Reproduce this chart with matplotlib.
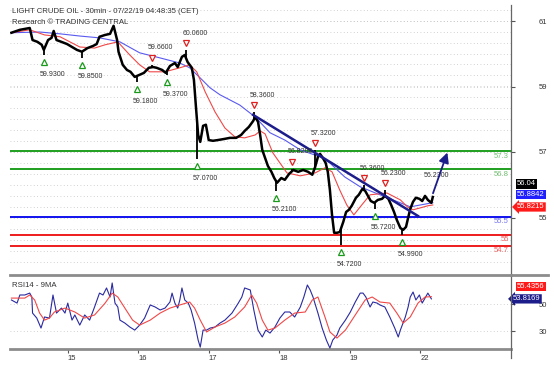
import numpy as np
import matplotlib
matplotlib.use("Agg")
import matplotlib.pyplot as plt
import matplotlib.transforms as mtransforms
from matplotlib.lines import Line2D

plt.rcParams["font.family"] = ["Liberation Sans", "DejaVu Sans"]

# time axis: trading days, 0 = Jul 15 (weekend skipped)
day_ticks = [0, 1, 2, 3, 4, 5]
day_labels = ["15", "16", "17", "18", "19", "22"]

# price (close)
price_t = [-0.80, -0.68, -0.54, -0.50, -0.43, -0.37, -0.34, -0.28, -0.23, -0.20, -0.16, -0.09,
           -0.01, 0.06, 0.13, 0.20, 0.28, 0.36, 0.41, 0.45, 0.53, 0.60, 0.65, 0.70, 0.72, 0.78,
           0.84, 0.89, 0.95, 1.01, 1.08, 1.15, 1.21, 1.26, 1.34, 1.39, 1.45, 1.52, 1.56, 1.62,
           1.66, 1.70, 1.76, 1.79, 1.82, 1.85, 1.88, 1.92, 1.96, 2.00, 2.06, 2.13, 2.22, 2.30,
           2.39, 2.46, 2.51, 2.57, 2.63, 2.66, 2.70, 2.73, 2.76, 2.80, 2.84, 2.89, 2.93, 2.97,
           3.03, 3.08, 3.14, 3.20, 3.27, 3.34, 3.41, 3.47, 3.51, 3.55, 3.58, 3.62, 3.66, 3.69,
           3.72, 3.75, 3.78, 3.82, 3.86, 3.91, 3.95, 3.99, 4.03, 4.09, 4.13, 4.18, 4.22, 4.26,
           4.30, 4.35, 4.40, 4.46, 4.50, 4.55, 4.59, 4.63, 4.67, 4.72, 4.76, 4.80, 4.83, 4.86,
           4.90, 4.94, 4.99, 5.03, 5.07, 5.11, 5.16, 5.18]
price_close = [60.54, 60.62, 60.67, 60.34, 60.29, 60.21, 60.07, 60.34, 60.40, 60.59, 60.34, 60.29,
               60.23, 60.15, 60.07, 60.02, 60.12, 60.18, 60.23, 60.43, 60.48, 60.51, 60.73, 60.34,
               60.02, 59.66, 59.52, 59.47, 59.33, 59.38, 59.44, 59.58, 59.60, 59.58, 59.52, 59.44,
               59.63, 59.71, 59.60, 59.88, 59.93, 59.74, 59.58, 59.25, 58.48, 57.74, 57.55, 57.99,
               58.02, 57.60, 57.58, 57.60, 57.63, 57.66, 57.66, 57.74, 57.85, 57.96, 58.12, 58.23,
               58.10, 57.74, 57.33, 57.11, 56.89, 56.73, 56.56, 56.43, 56.56, 56.51, 56.67, 56.78,
               56.73, 56.78, 56.73, 56.65, 56.86, 57.14, 57.22, 57.11, 56.97, 56.73, 56.23, 55.55,
               55.06, 55.06, 55.08, 55.36, 55.63, 55.69, 55.80, 56.02, 56.10, 56.26, 56.21, 56.07,
               55.93, 55.88, 55.96, 55.99, 56.07, 55.99, 55.82, 55.63, 55.41, 55.19, 55.14, 55.22,
               55.47, 55.71, 55.91, 56.02, 55.99, 55.93, 56.07, 55.96, 55.88, 56.04]

# moving averages on price
ma_fast_t = [-0.80, -0.54, -0.33, -0.11, 0.17, 0.38, 0.53, 0.71, 0.88, 1.02, 1.16, 1.38, 1.59,
             1.73, 1.83, 1.95, 2.09, 2.23, 2.37, 2.51, 2.66, 2.73, 2.80, 2.91, 3.11, 3.30, 3.51,
             3.65, 3.75, 3.86, 3.96, 4.06, 4.15, 4.29, 4.53, 4.72, 4.82, 4.90, 5.00, 5.11, 5.18]
ma_fast = [60.54, 60.62, 60.48, 60.43, 60.15, 60.12, 60.21, 60.29, 59.93, 59.66, 59.47, 59.47,
           59.58, 59.66, 59.47, 58.92, 58.37, 57.93, 57.69, 57.66, 57.74, 57.85, 57.77, 57.25,
           56.70, 56.62, 56.70, 56.84, 56.73, 56.23, 55.82, 55.55, 55.77, 56.10, 56.15, 55.96,
           55.77, 55.69, 55.74, 55.80, 55.8215]
ma_slow_t = [-0.80, -0.40, -0.11, 0.17, 0.45, 0.74, 1.02, 1.31, 1.59, 1.73, 1.88, 2.02, 2.16,
             2.44, 2.66, 2.87, 3.08, 3.30, 3.58, 3.72, 3.93, 4.15, 4.43, 4.72, 4.86, 5.00, 5.18]
ma_slow = [60.54, 60.56, 60.51, 60.45, 60.40, 60.29, 59.99, 59.85, 59.71, 59.58, 59.30, 59.03,
           58.84, 58.56, 58.23, 57.80, 57.60, 57.33, 57.14, 56.97, 56.59, 56.32, 56.10, 55.88,
           55.77, 55.82, 55.8842]

# swing points
low_t = [-0.34, 0.20, 0.98, 1.41, 1.83, 2.95, 3.88, 4.36, 4.74]
low_v = [59.93, 59.85, 59.18, 59.37, 57.07, 56.21, 54.72, 55.72, 54.99]
high_t = [1.19, 1.68, 2.64, 3.18, 3.51, 4.20, 4.50]
high_v = [59.66, 60.06, 58.36, 56.82, 57.32, 56.36, 56.23]

# support / resistance levels
levels = [57.3, 56.8, 55.5, 55.0, 54.7]
level_labels = ["57.3", "56.8", "55.5", "55", "54.7"]
level_colors = ["#1fa01f", "#1fa01f", "#1010ee", "#ee1c1c", "#ee1c1c"]
level_text_colors = ["#74c074", "#74c074", "#7272f2", "#f26060", "#f26060"]

# trend line and forecast arrow
trend_t = [2.63, 4.97]
trend_p = [58.29, 55.52]
arrow_t = [5.17, 5.40]
arrow_p = [56.07, 57.33]
target_label = "56.2300"

# RSI(14) and its 9-period MA
rsi_t = [-0.80, -0.72, -0.68, -0.61, -0.54, -0.51, -0.50, -0.44, -0.38, -0.33, -0.26, -0.21,
         -0.16, -0.09, -0.04, 0.00, 0.06, 0.10, 0.17, 0.24, 0.31, 0.38, 0.45, 0.50, 0.55, 0.60,
         0.63, 0.67, 0.71, 0.74, 0.81, 0.88, 0.95, 1.02, 1.09, 1.17, 1.24, 1.31, 1.38, 1.45,
         1.48, 1.52, 1.56, 1.59, 1.62, 1.66, 1.71, 1.75, 1.80, 1.85, 1.88, 1.92, 1.97, 2.02,
         2.09, 2.16, 2.23, 2.33, 2.42, 2.47, 2.51, 2.59, 2.64, 2.70, 2.76, 2.81, 2.87, 2.94,
         3.01, 3.08, 3.15, 3.22, 3.30, 3.35, 3.40, 3.44, 3.48, 3.55, 3.61, 3.67, 3.72, 3.76,
         3.82, 3.86, 3.94, 4.01, 4.08, 4.15, 4.19, 4.23, 4.29, 4.33, 4.39, 4.43, 4.50, 4.57,
         4.64, 4.69, 4.72, 4.79, 4.83, 4.86, 4.90, 4.94, 4.99, 5.03, 5.07, 5.11, 5.16]
rsi = [53.0, 50.7, 56.7, 56.7, 58.1, 55.2, 43.3, 39.6, 32.2, 40.4, 39.6, 56.7,
       43.3, 47.0, 43.3, 50.7, 38.1, 41.9, 34.4, 41.9, 38.1, 47.8, 58.1, 56.7, 61.9, 55.2,
       65.6, 50.7, 47.8, 38.1, 35.9, 33.0, 30.7, 34.4, 39.6, 49.3, 47.8, 45.6, 47.0, 51.5,
       58.1, 50.7, 47.0, 53.0, 61.9, 53.0, 50.7, 45.6, 35.9, 23.3, 18.1, 30.7, 30.7, 32.2,
       33.0, 35.9, 38.1, 43.3, 50.7, 55.2, 61.9, 60.4, 45.6, 30.7, 25.6, 30.7, 28.5, 33.0,
       39.6, 44.1, 44.1, 40.4, 47.8, 55.2, 64.1, 60.4, 55.2, 43.3, 32.2, 23.3, 17.4, 23.3,
       27.0, 32.2, 38.1, 44.1, 51.5, 58.1, 58.1, 55.2, 47.8, 51.5, 50.7, 49.3, 47.8, 40.4,
       32.2, 25.6, 30.7, 40.4, 47.8, 55.2, 58.9, 53.0, 56.7, 50.7, 54.4, 58.1, 53.8169]
rsi_ma_t = [-0.80, -0.61, -0.54, -0.47, -0.40, -0.33, -0.26, -0.19, -0.04, 0.10, 0.24, 0.38,
            0.53, 0.63, 0.71, 0.81, 0.92, 1.02, 1.17, 1.31, 1.45, 1.59, 1.73, 1.80, 1.88, 1.97,
            2.09, 2.23, 2.37, 2.51, 2.61, 2.68, 2.76, 2.84, 2.94, 3.08, 3.22, 3.37, 3.47, 3.55,
            3.65, 3.72, 3.82, 3.94, 4.08, 4.22, 4.32, 4.43, 4.57, 4.67, 4.76, 4.86, 4.97, 5.07,
            5.16]
rsi_ma = [54.4, 54.4, 56.7, 53.0, 43.3, 38.1, 39.6, 44.1, 47.0, 44.1, 39.6, 41.9,
          50.7, 58.1, 55.2, 47.0, 38.1, 34.4, 38.1, 43.3, 47.0, 49.3, 51.5, 47.0, 38.1, 29.3,
          33.0, 35.9, 40.4, 47.8, 56.7, 50.7, 38.1, 30.7, 32.2, 38.1, 43.3, 44.1, 53.0, 55.2,
          40.4, 29.3, 24.8, 30.7, 41.9, 53.0, 55.2, 51.5, 50.7, 43.3, 35.9, 40.4, 50.7, 55.2,
          55.4356]

W, H = 554, 365
fig = plt.figure(figsize=(W / 100, H / 100), dpi=100)


def box(l, t, r, b):
    return [l / W, 1 - b / H, (r - l) / W, (b - t) / H]


ax = fig.add_axes(box(10, 5, 511, 270))
ax2 = fig.add_axes(box(10, 275, 511, 349), sharex=ax)

xmin, xmax = -0.82, 6.29
ax.set_xlim(xmin, xmax)
ax.set_ylim(54.04, 61.30)
ax2.set_ylim(16.7, 71.5)

# ---- main panel ----
for s in ax.spines.values():
    s.set_visible(False)
ax.tick_params(axis="x", bottom=False, labelbottom=False)
ax.yaxis.tick_right()
ax.set_yticks([55.47, 57.28, 59.06, 60.86])
ax.set_yticklabels(["55", "57", "59", "61"])
ax.set_yticks(np.arange(54.27, 61.3, 0.3), minor=True)
ax.tick_params(axis="y", which="major", length=3, width=0.8, color="#555555",
               labelsize=5.5, labelcolor="#333333", pad=17)
ax.tick_params(axis="y", which="minor", length=0)
ax.grid(axis="y", which="both", linestyle=(0, (1, 3)), color="#c4c4c4", linewidth=0.6)

for lv, lab, c, tc in zip(levels, level_labels, level_colors, level_text_colors):
    ax.axhline(lv, color=c, linewidth=1.4, zorder=2)
    ax.annotate(lab, xy=(1, lv), xycoords=("axes fraction", "data"),
                xytext=(-2, -5), textcoords="offset pixels", ha="right", va="center",
                fontsize=5.5, color=tc, zorder=6)

ax.plot(ma_slow_t, ma_slow, color="#5a5af0", linewidth=0.8, zorder=3)
ax.plot(ma_fast_t, ma_fast, color="#f04848", linewidth=0.8, zorder=3)
ax.plot(price_t, price_close, color="black", linewidth=1.8, zorder=4)
ax.vlines(low_t, low_v, np.interp(low_t, price_t, price_close), color="black",
          linewidth=1.3, zorder=4)
ax.vlines(high_t, np.interp(high_t, price_t, price_close), high_v, color="black",
          linewidth=1.3, zorder=4)

ax.plot(trend_t, trend_p, color="#1c1c8a", linewidth=1.8, zorder=5)
ax.annotate("", xy=(arrow_t[1], arrow_p[1]), xytext=(arrow_t[0], arrow_p[0]),
            arrowprops=dict(arrowstyle="-|>,head_length=0.6,head_width=0.3",
                            color="#1c1c8a", lw=1.3), zorder=5)
ax.annotate(target_label, xy=(arrow_t[0], arrow_p[0]), xytext=(-8, 20),
            textcoords="offset pixels", fontsize=5, color="#333333", ha="left", va="center")


def shifted(dx, dy):
    return mtransforms.offset_copy(ax.transData, fig=fig, x=dx, y=dy, units="dots")


ax.plot(low_t, low_v, linestyle="none", marker="^", markersize=5, mfc="white",
        mec="#1a9a1a", mew=0.9, transform=shifted(0, -7), zorder=6)
ax.plot(high_t, high_v, linestyle="none", marker="v", markersize=5, mfc="white",
        mec="#e02020", mew=0.9, transform=shifted(0, 7), zorder=6)
for t, v in zip(low_t, low_v):
    ax.text(t, v, f"{v:.4f}", transform=shifted(-4, -19), ha="left", va="center",
            fontsize=5, color="#333333", zorder=6)
for t, v in zip(high_t, high_v):
    ax.text(t, v, f"{v:.4f}", transform=shifted(-4, 17), ha="left", va="center",
            fontsize=5, color="#333333", zorder=6)

ax.text(0.004, 0.975, "LIGHT CRUDE OIL - 30min - 07/22/19 04:48:35 (CET)",
        transform=ax.transAxes, fontsize=5.6, color="#333333", va="center")
ax.text(0.004, 0.935, "Research \u00a9 TRADING CENTRAL",
        transform=ax.transAxes, fontsize=5.6, color="#333333", va="center")

# value tags at the right edge
tag_style = dict(xycoords=("axes fraction", "data"), textcoords="offset pixels",
                 ha="left", va="center", fontsize=5.5, color="white", annotation_clip=False)
ax.annotate(f"{price_close[-1]:.2f}", xy=(1, price_close[-1]), xytext=(6, 13),
            bbox=dict(boxstyle="square,pad=0.15", fc="black", ec="none"), **tag_style)
ax.annotate(f"{ma_slow[-1]:.4f}", xy=(1, ma_slow[-1]), xytext=(6, 8),
            bbox=dict(boxstyle="square,pad=0.15", fc="#2020ff", ec="none"), **tag_style)
ax.annotate(f"{ma_fast[-1]:.4f}", xy=(1, ma_fast[-1]), xytext=(6, -2),
            bbox=dict(boxstyle="larrow,pad=0.15", fc="#ff1a1a", ec="none"), **tag_style)

# ---- RSI panel ----
for side in ["left", "right"]:
    ax2.spines[side].set_visible(False)
for side in ["top", "bottom"]:
    ax2.spines[side].set_color("#8c8c8c")
    ax2.spines[side].set_linewidth(2)
ax2.yaxis.tick_right()
ax2.set_yticks([30, 50])
ax2.tick_params(axis="y", length=3, width=0.8, color="#555555", labelsize=5.5,
                labelcolor="#333333", pad=17)
ax2.grid(axis="y", linestyle=(0, (1, 3)), color="#c4c4c4", linewidth=0.6)
ax2.set_xticks(day_ticks)
ax2.set_xticklabels(day_labels, ha="left")
ax2.tick_params(axis="x", length=3, width=0.8, color="#555555", labelsize=5.5,
                labelcolor="#333333", pad=1)

ax2.plot(rsi_t, rsi, color="#2a2aa0", linewidth=0.8, zorder=3)
ax2.plot(rsi_ma_t, rsi_ma, color="#f04848", linewidth=0.8, zorder=3)
ax2.text(0.004, 0.86, "RSI14 - 9MA", transform=ax2.transAxes, fontsize=5.6,
         color="#333333", va="center")

ax2.annotate(f"{rsi_ma[-1]:.4f}", xy=(1, rsi_ma[-1]), xytext=(6, 10),
             bbox=dict(boxstyle="square,pad=0.15", fc="#ff1a1a", ec="none"), **tag_style)
ax2.annotate(f"{rsi[-1]:.4f}", xy=(1, rsi[-1]), xytext=(2, 0),
             bbox=dict(boxstyle="larrow,pad=0.15", fc="#1c1c8a", ec="none"), **tag_style)

# right axis line through both panels, and panel border extension
fig.add_artist(Line2D([511 / W, 511 / W], [1 - 5 / H, 1 - 358 / H], color="#666666", lw=0.9))
fig.add_artist(Line2D([511 / W, 548 / W], [1 - 275 / H, 1 - 275 / H], color="#8c8c8c", lw=2))

fig.savefig("out.png", dpi=100)
